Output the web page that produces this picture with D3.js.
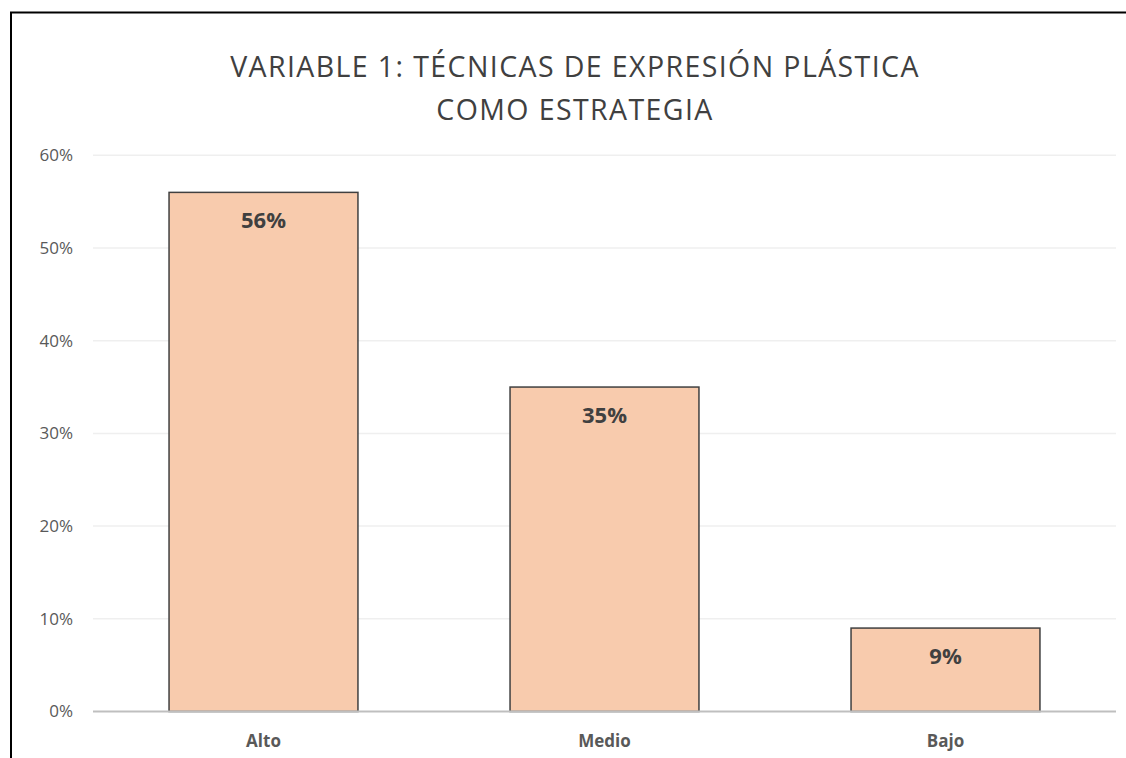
<!DOCTYPE html>
<html><head><meta charset="utf-8">
<script src="https://cdn.jsdelivr.net/npm/d3@7"></script>
<style>html,body{margin:0;padding:0;background:#fff;overflow:hidden;}</style>
</head><body>
<svg id="c" width="1126" height="758"></svg>
<script>
const categories = ["Alto", "Medio", "Bajo"];
const values = [0.56, 0.35, 0.09];
const valueLabels = ["56%", "35%", "9%"];
const yTicks = [0, 0.1, 0.2, 0.3, 0.4, 0.5, 0.6];
const titleLines = ["VARIABLE 1: TÉCNICAS DE EXPRESIÓN PLÁSTICA", "COMO ESTRATEGIA"];

const svg = d3.select("#c");
const font = "'Open Sans', 'Noto Sans', sans-serif";
// outer border
svg.append("rect").attr("x", 11).attr("y", 12.5).attr("width", 1140).attr("height", 760)
  .attr("fill", "none").attr("stroke", "#000").attr("stroke-width", 2);

const m = {left: 93, right: 1116, top: 155.3, bottom: 711.5};
const x = d3.scaleBand().domain(categories).range([m.left, m.right]).paddingInner(0.446).paddingOuter(0.223);
const y = d3.scaleLinear().domain([0, 0.6]).range([m.bottom, m.top]);

// gridlines
svg.append("g").selectAll("line").data(yTicks.filter(d => d > 0)).join("line")
  .attr("x1", m.left).attr("x2", m.right)
  .attr("y1", d => y(d)).attr("y2", d => y(d))
  .attr("stroke", "#efefef").attr("stroke-width", 1.5);

// y axis labels
const yAxis = d3.axisLeft(y).tickValues(yTicks).tickFormat(d3.format(".0%")).tickSize(0).tickPadding(0);
const yg = svg.append("g").attr("transform", `translate(${m.left - 20},0)`).call(yAxis);
yg.select(".domain").remove();
yg.selectAll("text").attr("font-family", font).attr("font-size", 17).attr("fill", "#595959");

// bars
svg.append("g").selectAll("rect").data(categories).join("rect")
  .attr("x", d => x(d)).attr("width", x.bandwidth())
  .attr("y", (d, i) => y(values[i])).attr("height", (d, i) => y(0) - y(values[i]))
  .attr("fill", "#F8CBAD").attr("stroke", "#404040").attr("stroke-width", 1.5);

// value labels
svg.append("g").selectAll("text").data(categories).join("text")
  .attr("x", d => x(d) + x.bandwidth() / 2)
  .attr("y", (d, i) => y(values[i]) + 36)
  .attr("text-anchor", "middle").attr("font-family", font).attr("font-weight", "bold")
  .attr("font-size", 22).attr("fill", "#404040")
  .text((d, i) => valueLabels[i]);

// x axis
svg.append("line").attr("x1", m.left).attr("x2", m.right).attr("y1", y(0)).attr("y2", y(0))
  .attr("stroke", "#bfbfbf").attr("stroke-width", 2);
const xAxis = d3.axisBottom(x).tickSize(0).tickPadding(0);
const xg = svg.append("g").attr("transform", `translate(0,${y(0) + 35})`).call(xAxis);
xg.select(".domain").remove();
xg.selectAll("text").attr("font-family", font).attr("font-size", 17).attr("font-weight", "bold")
  .attr("fill", "#595959").attr("dy", 0);

// title
svg.append("g").selectAll("text").data(titleLines).join("text")
  .attr("x", 575).attr("y", (d, i) => 77 + i * 43)
  .attr("text-anchor", "middle").attr("font-family", font).attr("font-size", 28.5)
  .attr("letter-spacing", 1.4)
  .attr("fill", "#404040").text(d => d);
</script>
</body></html>
